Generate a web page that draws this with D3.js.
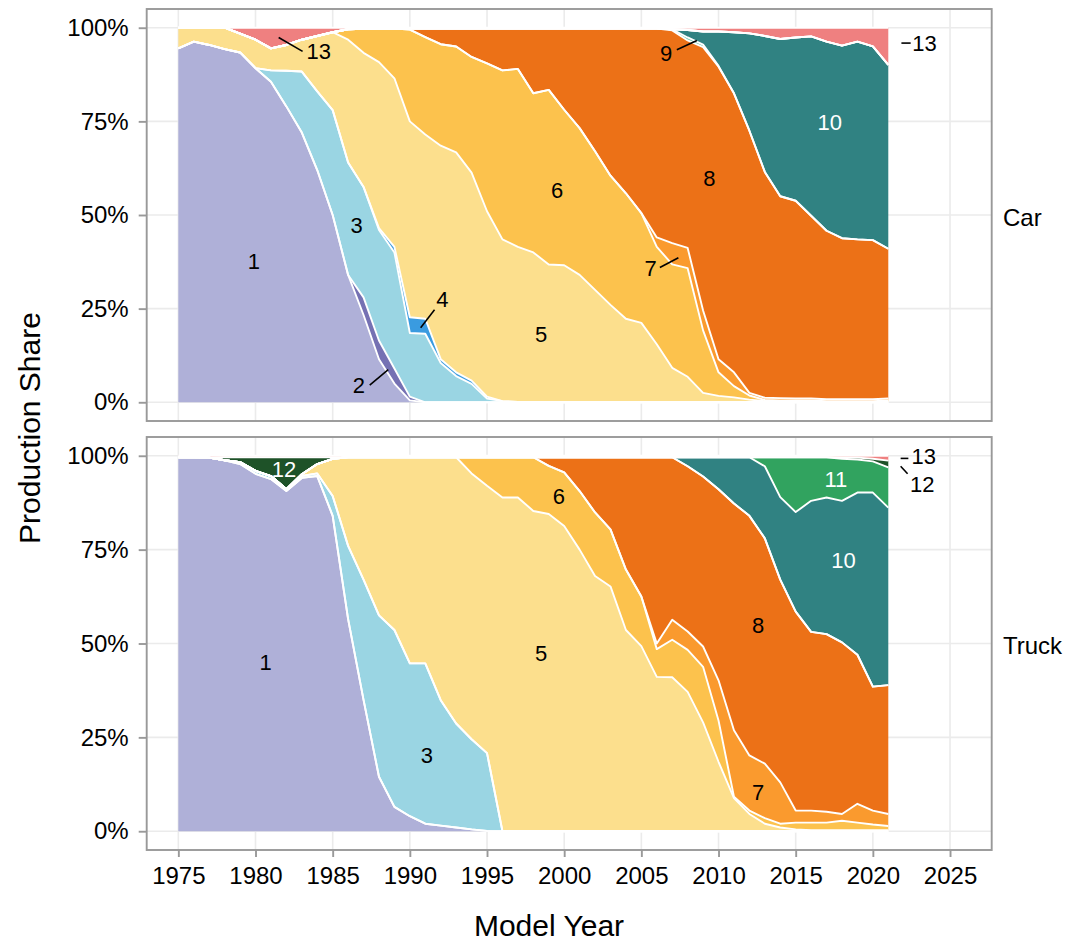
<!DOCTYPE html>
<html><head><meta charset="utf-8">
<script src="https://cdn.jsdelivr.net/npm/d3@7"></script>
<style>
body{margin:0;background:#fff}
text{font-family:"Liberation Sans",Arial,Helvetica,sans-serif}
</style>
</head><body>
<svg id="chart" width="1071" height="944"></svg>
<script>
// ---------- DATA ----------
const years = d3.range(1975, 2022); // model years 1975..2021
const seriesKeys = ["1","2","3","4","5","6","7","8","9","10","11","12","13"];
const seriesColors = ["#AFB0D8","#7571B3","#9AD5E3","#3A9BE0","#FCDF8D","#FCC24D","#FA9A2E","#EC7117","#66C2A5","#308282","#31A35F","#1E5228","#EF8080"];

// Car production share (%), one value per model year
const carS1 = [94.5,96.3,95.4,94.3,93.4,89.2,85.6,79,72,62, 50,34,23.3,11.5,5,0.5,0,0,0,0, 0,0,0,0,0,0,0,0,0,0, 0,0,0,0,0,0,0,0,0,0, 0,0,0,0,0,0,0];
const carS2 = [0,0,0,0,0,0,0,0,0,0, 0,0,4.7,5,4,1,0,0,0,0, 0,0,0,0,0,0,0,0,0,0, 0,0,0,0,0,0,0,0,0,0, 0,0,0,0,0,0,0];
const carS3 = [0,0,0,0,0,0,3,9.5,16.3,21, 28,30,29.5,29.5,31,17,18.3,10.5,7,4.9, 1,0.3,0.1,0,0,0,0,0,0,0, 0,0,0,0,0,0,0,0,0,0, 0,0,0,0,0,0,0];
const carS4 = [0,0,0,0,0,0,0,0,0,0, 0,0,0,0.5,1.5,4.2,4,1,1,0.9, 0.5,0,0,0,0,0,0,0,0,0, 0,0,0,0,0,0,0,0,0,0, 0,0,0,0,0,0,0];
const carS5 = [5.5,3.7,4.6,5.7,5,7.6,5.9,6.9,8.5,14.8, 20.8,32.8,35.8,44.3,45,52.3,49.2,57,58.7,55.5, 49.5,43.2,41.4,40,36.8,36.6,34,30,26,22.3, 21.2,15.5,9.2,6.8,2.5,1.7,1.3,0.7,0.3,0.2, 0.2,0.2,0.1,0.1,0.1,0.1,0.2];
const carS6 = [0,0,0,0,0,0,0,0,0,0, 0,2.8,6.4,9,13.3,24.5,26,27.1,28.3,30.9, 39.5,45.1,47.5,42.5,46.6,41.5,39.2,37,34.5,33.5, 29.3,26,27.6,29,16.7,6.3,3,1.1,0.3,0.3, 0.3,0.3,0.2,0.2,0.2,0.2,0.3];
const carS7 = [0,0,0,0,0,0,0,0,0,0, 0,0,0,0,0,0,0,0,0,0, 0,0,0,0,0,0,0,0,0,0, 0,2.5,5.7,5.4,5.3,3.5,3.7,0.7,0.6,0.6, 0.5,0.5,0.5,0.5,0.5,0.5,0.5];
const carS8 = [0,0,0,0,0,0,0,0,0,0, 0,0,0,0,0,0.3,2.3,4.2,4.8,7.6, 9.3,11.2,10.8,17.3,16.4,21.7,26.6,32.8,39.3,44, 49.3,55.8,56.8,55.4,70.3,78.1,74.5,70,60.3,53.9, 52.8,48.8,45,43,42.7,42.5,40];
const carS9 = [0,0,0,0,0,0,0,0,0,0, 0,0,0,0,0,0,0,0,0,0, 0,0,0,0,0,0,0,0,0,0, 0,0,0.3,0.8,0.7,0.2,0,0,0,0, 0,0,0,0,0,0,0];
const carS10 = [0,0,0,0,0,0,0,0,0,0, 0,0,0,0,0,0,0,0,0,0, 0,0,0,0,0,0,0,0,0,0, 0,0,0,2,3.5,9.2,16.3,26,36.3,42, 43.6,47.9,50.5,51.4,52.8,51.7,49.1];
const carS11 = [0,0,0,0,0,0,0,0,0,0, 0,0,0,0,0,0,0,0,0,0, 0,0,0,0,0,0,0,0,0,0, 0,0,0,0,0,0,0,0,0,0, 0,0,0,0,0,0,0];
const carS12 = [0,0,0,0,0,0,0,0,0,0, 0,0,0,0,0,0,0,0,0,0, 0,0,0,0,0,0,0,0,0,0, 0,0,0,0,0,0,0,0,0,0, 0,0,0,0,0,0,0];
const carS13 = [0,0,0,0,1.6,3.2,5.5,4.6,3.2,2.2, 1.2,0.4,0.3,0.2,0.2,0.2,0.2,0.2,0.2,0.2, 0.2,0.2,0.2,0.2,0.2,0.2,0.2,0.2,0.2,0.2, 0.2,0.2,0.4,0.6,1,1,1.2,1.5,2.2,3, 2.6,2.3,3.7,4.8,3.7,5,9.9];

// Truck production share (%)
const truckS1 = [99.6,99.6,99.5,98.8,97.8,95.2,93.8,90.6,94.1,94.6, 84,56.5,35,14.5,6.5,4,2,1.5,1,0.5, 0.1,0,0,0,0,0,0,0,0,0, 0,0,0,0,0,0,0,0,0,0, 0,0,0,0,0,0,0];
const truckS2 = [0,0,0,0,0,0,0,0,0,0, 0,0,0,0,0,0,0,0,0,0, 0,0,0,0,0,0,0,0,0,0, 0,0,0,0,0,0,0,0,0,0, 0,0,0,0,0,0,0];
const truckS3 = [0,0,0,0,0.5,0.8,0.8,0.5,0.5,0.7, 5.3,19.5,32,43,47.1,40.7,42.7,33.4,27.7,24, 20.7,0,0,0,0,0,0,0,0,0, 0,0,0,0,0,0,0,0,0,0, 0,0,0,0,0,0,0];
const truckS4 = [0,0,0,0,0,0,0,0,0,0, 0,0,0,0,0,0,0,0,0,0, 0,0,0,0,0,0,0,0,0,0, 0,0,0,0,0,0,0,0,0,0, 0,0,0,0,0,0,0];
const truckS5 = [0,0,0,0,0,0,0,0,0.5,2.5, 9.9,23.6,32.6,42.1,46,54.9,54.9,64.7,70.9,70.8, 71.2,88.9,88.9,85.3,84.5,81.3,75,68,65.2,53.6, 49.3,41.1,41,37.1,29,18.5,8.8,4.6,2,1, 0.5,0.3,0.3,0.3,0.3,0.3,0.3];
const truckS6 = [0,0,0,0,0,0,0,0,0,0, 0,0,0,0,0,0,0,0,0,4.3, 7.6,10.7,10.7,14.3,12.8,14.3,15.6,16.9,15.2,16.1, 13.2,7.4,10,11.2,14.8,11,0.4,0.9,1.5,1, 1.8,2,2,2.5,2,1.5,1.1];
const truckS7 = [0,0,0,0,0,0,0,0,0,0, 0,0,0,0,0,0,0,0,0,0, 0,0,0,0,0,0,0,0,0,0, 0,1.5,5.3,4.9,5.4,10.7,17.7,14.7,14.5,11, 3.2,3.2,2.9,1.8,5,3.7,3.2];
const truckS8 = [0,0,0,0,0,0,0,0,0,0, 0,0,0,0,0,0,0,0,0,0, 0,0,0,0,2.3,4,9,14.7,19.2,29.9, 37.1,49.6,43.3,44,45.3,50.9,60.4,63.8,60,54, 53,47.6,47.3,45.7,39.7,33,34.3];
const truckS9 = [0,0,0,0,0,0,0,0,0,0, 0,0,0,0,0,0,0,0,0,0, 0,0,0,0,0,0,0,0,0,0, 0,0,0,0,0,0,0,0,0,0, 0,0,0,0,0,0,0];
const truckS10 = [0,0,0,0,0,0,0,0,0,0, 0,0,0,0,0,0,0,0,0,0, 0,0,0,0,0,0,0,0,0,0, 0,0,0,2.4,5.1,8.5,12.3,15.6,19.2,22, 26.5,34.9,36.4,37.7,43.2,51.7,47.3];
const truckS11 = [0,0,0,0,0,0,0,0,0,0, 0,0,0,0,0,0,0,0,0,0, 0,0,0,0,0,0,0,0,0,0, 0,0,0,0,0,0,0,0,2.4,10.6, 14.6,11.6,10.7,11.2,8.8,8.3,10.7];
const truckS12 = [0,0,0,0.8,1.3,3.6,5,8.5,4.5,1.8, 0.4,0,0,0,0,0,0,0,0,0, 0,0,0,0,0,0,0,0,0,0, 0,0,0,0,0,0,0,0,0,0, 0,0,0,0.3,0.5,0.7,1.8];
const truckS13 = [0.4,0.4,0.5,0.4,0.4,0.4,0.4,0.4,0.4,0.4, 0.4,0.4,0.4,0.4,0.4,0.4,0.4,0.4,0.4,0.4, 0.4,0.4,0.4,0.4,0.4,0.4,0.4,0.4,0.4,0.4, 0.4,0.4,0.4,0.4,0.4,0.4,0.4,0.4,0.4,0.4, 0.4,0.4,0.4,0.5,0.5,0.8,1.3];

const xTicks = [1975,1980,1985,1990,1995,2000,2005,2010,2015,2020,2025];
const yTicks = [0,25,50,75,100];

// Area labels (data coordinates: model year, percent)
const carLabels = [
  {t:"1", x:1979.9, y:37.6},
  {t:"2", x:1986.7, y:4.5, line:[1987.4,4.6,1988.6,8.7]},
  {t:"3", x:1986.55, y:47.3},
  {t:"4", x:1992.1, y:27.5, line:[1991.6,24.7,1990.7,19.9]},
  {t:"5", x:1998.5, y:18.3},
  {t:"6", x:1999.55, y:56.6},
  {t:"7", x:2005.6, y:35.7, line:[2006.2,36,2007.4,38.6]},
  {t:"8", x:2009.4, y:59.8},
  {t:"9", x:2006.6, y:93.2, line:[2007.3,94.1,2008.6,96.6]},
  {t:"10", x:2017.2, y:74.8, white:true},
  {t:"13", x:1984.1, y:93.7, line:[1981.5,97.4,1983.05,93.7]},
  {t:"13", x:2022.55, y:95.9, anchor:"start", line:[2021.85,95.9,2022.45,95.9]}
];
const truckLabels = [
  {t:"12", x:1981.85, y:96.4, white:true},
  {t:"1", x:1980.66, y:45},
  {t:"3", x:1991.1, y:20.2},
  {t:"5", x:1998.5, y:47.4},
  {t:"6", x:1999.66, y:89.3},
  {t:"8", x:2012.56, y:55},
  {t:"7", x:2012.56, y:10.4},
  {t:"10", x:2018.1, y:72.2, white:true},
  {t:"11", x:2017.6, y:93.8, white:true},
  {t:"13", x:2022.5, y:99.9, anchor:"start", line:[2021.8,99.3,2022.3,99.3]},
  {t:"12", x:2022.4, y:92.4, anchor:"start", line:[2021.8,97.2,2022.25,95.2]}
];

// ---------- BUILD ----------
function buildRows(arrs){
  return years.map((yr,i)=>{
    const r = {year:yr};
    seriesKeys.forEach((k,j)=>{ r[k] = arrs[j][i]; });
    return r;
  });
}
const carRows = buildRows([carS1,carS2,carS3,carS4,carS5,carS6,carS7,carS8,carS9,carS10,carS11,carS12,carS13]);
const truckRows = buildRows([truckS1,truckS2,truckS3,truckS4,truckS5,truckS6,truckS7,truckS8,truckS9,truckS10,truckS11,truckS12,truckS13]);

const svg = d3.select("#chart");
const FONT = '"Liberation Sans",Arial,Helvetica,sans-serif';
const left = 146.7, right = 991.7;
const x = d3.scaleLinear().domain([1972.95, 2027.7]).range([left, right]);
const color = d3.scaleOrdinal().domain(seriesKeys).range(seriesColors);
const stack = d3.stack().keys(seriesKeys).order(d3.stackOrderNone).offset(d3.stackOffsetNone);

const panels = [
  {name:"Car", top:9, bottom:421, rows:carRows, labels:carLabels, xAxis:false},
  {name:"Truck", top:437, bottom:850, rows:truckRows, labels:truckLabels, xAxis:true}
];

panels.forEach(p=>{
  const y = d3.scaleLinear().domain([-5,105]).range([p.bottom, p.top]);
  const g = svg.append("g");
  // background + grid
  g.append("rect").attr("x",left).attr("y",p.top).attr("width",right-left).attr("height",p.bottom-p.top).attr("fill","#fff");
  g.selectAll("line.vg").data(xTicks).join("line")
    .attr("x1",d=>x(d)).attr("x2",d=>x(d)).attr("y1",p.top).attr("y2",p.bottom)
    .attr("stroke","#ebebeb").attr("stroke-width",1.6);
  g.selectAll("line.hg").data(yTicks).join("line")
    .attr("x1",left).attr("x2",right).attr("y1",d=>y(d)).attr("y2",d=>y(d))
    .attr("stroke","#ebebeb").attr("stroke-width",1.6);

  const stacked = stack(p.rows);
  const area = d3.area().x(d=>x(d.data.year)).y0(d=>y(d[0])).y1(d=>y(d[1]));
  const upper = d3.line().x(d=>x(d.data.year)).y(d=>y(d[1]));
  g.selectAll("path.area").data(stacked).join("path")
    .attr("d",area).attr("fill",d=>color(d.key)).attr("stroke","none");
  g.selectAll("path.upper").data(stacked).join("path")
    .attr("d",upper).attr("fill","none").attr("stroke","#fff").attr("stroke-width",1.9)
    .attr("stroke-linejoin","round");

  // labels
  p.labels.forEach(l=>{
    if(l.line){
      g.append("line").attr("x1",x(l.line[0])).attr("y1",y(l.line[1]))
        .attr("x2",x(l.line[2])).attr("y2",y(l.line[3]))
        .attr("stroke","#000").attr("stroke-width",1.6);
    }
    g.append("text").attr("x",x(l.x)).attr("y",y(l.y)).attr("dy","0.36em")
      .attr("text-anchor",l.anchor||"middle").attr("font-size",22)
      .attr("fill",l.white?"#fff":"#000").text(l.t);
  });

  // border
  g.append("rect").attr("x",left).attr("y",p.top).attr("width",right-left).attr("height",p.bottom-p.top)
    .attr("fill","none").attr("stroke","#999").attr("stroke-width",1.9);

  // y axis
  const ya = svg.append("g").attr("transform",`translate(${left},0)`)
    .call(d3.axisLeft(y).tickValues(yTicks).tickFormat(d=>d+"%").tickSize(8).tickPadding(10));
  ya.select(".domain").remove();
  ya.selectAll(".tick line").attr("stroke","#999").attr("stroke-width",1.9);
  ya.selectAll(".tick text").attr("font-size",24).attr("font-family",FONT).attr("fill","#000");

  if(p.xAxis){
    const xa = svg.append("g").attr("transform",`translate(0,${p.bottom})`)
      .call(d3.axisBottom(x).tickValues(xTicks).tickFormat(d3.format("d")).tickSize(7).tickPadding(10));
    xa.select(".domain").remove();
    xa.selectAll(".tick line").attr("stroke","#999").attr("stroke-width",1.9);
    xa.selectAll(".tick text").attr("font-size",24).attr("font-family",FONT).attr("fill","#000");
  }

  // strip text
  svg.append("text").attr("x",1003).attr("y",(p.top+p.bottom)/2 + 2).attr("dy","0.36em")
    .attr("font-size",24).attr("fill","#000").text(p.name);
});

// axis titles
svg.append("text").attr("x",549).attr("y",936).attr("text-anchor","middle")
  .attr("font-size",30).attr("fill","#000").text("Model Year");
svg.append("text").attr("transform","translate(40,428) rotate(-90)").attr("text-anchor","middle")
  .attr("font-size",30).attr("fill","#000").text("Production Share");
</script>
</body></html>
